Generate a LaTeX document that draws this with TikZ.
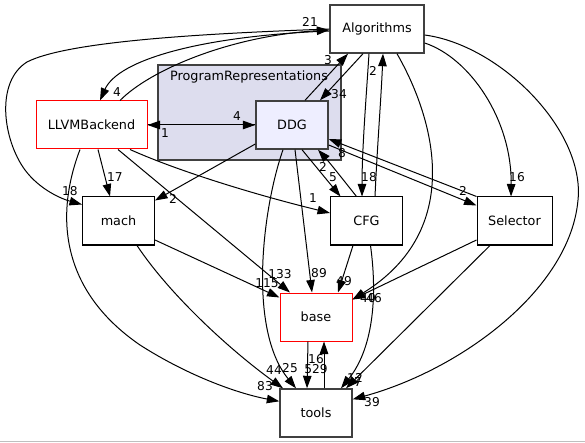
\documentclass[tikz,border=0pt]{standalone}
\usepackage{fontspec}
\setmainfont{DejaVu Sans}
\usetikzlibrary{arrows.meta}
\definecolor{clusterfill}{HTML}{DDDDEE}
\definecolor{ddgfill}{HTML}{EEEEFF}
\definecolor{darkborder}{HTML}{404040}
\definecolor{redborder}{HTML}{FF0000}
\newcommand{\nodefont}{\fontsize{12.8}{15}\selectfont}
\newcommand{\lblfont}{\fontsize{12.2}{14}\selectfont}
\tikzset{
  dirbox/.style={draw=black, line width=1pt, fill=white, minimum width=72pt, minimum height=48pt, inner sep=0pt, font=\nodefont},
  darkbox/.style={dirbox, draw=darkborder, line width=1.4pt},
  redbox/.style={dirbox, draw=redborder},
  dep/.style={line width=1pt, -{Triangle[length=12.5pt,width=8.5pt]}},
  lbl/.style={font=\lblfont, inner sep=0pt}
}
\begin{document}
\begin{tikzpicture}[x=1pt,y=-1pt]
\useasboundingbox (0,0) rectangle (585,443);
\draw[gray!50, line width=1pt] (0,441.5) -- (585,441.5);
% cluster
\node (PR) [fill=clusterfill, draw=darkborder, line width=1.2pt, minimum width=183pt, minimum height=95pt, inner sep=0pt] at (249.5,112.5) {};
\node (PRlabel) [font=\nodefont, inner sep=0pt] at (249,77) {ProgramRepresentations};
% nodes
\node (Alg) [darkbox, minimum width=94pt] at (377,29) {Algorithms};
\node (DDG) [darkbox, fill=ddgfill] at (292,125) {DDG};
\node (LLVM) [redbox, minimum width=111pt] at (91.5,125) {LLVMBackend};
\node (mach) [dirbox] at (118.5,221) {mach};
\node (CFG) [dirbox] at (366.5,221) {CFG};
\node (Sel) [dirbox, minimum width=75pt] at (514.5,221) {Selector};
\node (base) [redbox] at (316,317) {base};
\node (tools) [darkbox] at (316,413) {tools};
% edges
\draw[dep] (Alg.west) .. controls (220,33) and (70,40) .. (27,62) .. controls (-5,82) and (3,140) .. (25,170) .. controls (40,190) and (62,199) .. ([yshift=-8pt]mach.north west);
\draw[dep] ([yshift=-2pt]Alg.west) .. controls (200,36) and (118,60) .. ([xshift=8.5pt]LLVM.north);
\draw[dep] ([xshift=28.5pt]LLVM.north) .. controls (150,70) and (230,36) .. ([yshift=-1pt]Alg.west);
\draw[dep] ([xshift=13pt]DDG.north) -- ([xshift=-29pt]Alg.south);
\draw[dep] ([xshift=-14pt]Alg.south) -- ([xshift=28pt]DDG.north);
\draw[dep] (LLVM.east) -- (DDG.west);
\draw[dep] (DDG.west) -- (LLVM.east);
\draw[dep] ([yshift=-19pt]DDG.west) -- ([yshift=-4pt]mach.north east);
\draw[dep] ([xshift=10pt]DDG.south) -- ([xshift=-26pt]CFG.north);
\draw[dep] ([xshift=-10pt]CFG.north) .. controls (345,182) and (330,163) .. ([xshift=26pt]DDG.south);
\draw[dep] ([yshift=-20pt]DDG.east) -- ([yshift=-9pt]Sel.north west);
\draw[dep] (Sel.north west) -- ([yshift=-14pt]DDG.east);
\draw[dep] ([xshift=3pt]DDG.south) -- ([xshift=-4pt]base.north);
\draw[dep] ([xshift=-9pt]DDG.south) .. controls (262,210) and (248,330) .. ([xshift=-20pt]tools.north);
\draw[dep] ([xshift=-11.5pt]LLVM.south) .. controls (55,215) and (60,290) .. (140,345) .. controls (190,377) and (240,394) .. ([yshift=-13pt]tools.north west);
\draw[dep] ([xshift=6.5pt]LLVM.south) -- ([xshift=-8.5pt]mach.north);
\draw[dep] ([xshift=38.5pt]LLVM.south) .. controls (180,172) and (260,196) .. ([yshift=8pt]CFG.west);
\draw[dep] ([xshift=26.5pt]LLVM.south) -- ([xshift=-26pt]base.north);
\draw[dep] ([yshift=-19pt]mach.east) -- ([yshift=-5pt]base.north west);
\draw[dep] ([xshift=18.5pt]mach.south) .. controls (170,295) and (230,350) .. ([xshift=-33pt]tools.north);
\draw[dep] ([xshift=-8pt]Alg.south) .. controls (366,100) and (362,150) .. ([xshift=-4.5pt]CFG.north);
\draw[dep] ([xshift=8.5pt]CFG.north) .. controls (377,150) and (381,100) .. ([xshift=6pt]Alg.south);
\draw[dep] ([xshift=20pt]Alg.south) .. controls (435,120) and (465,230) .. ([yshift=-7pt]base.north east);
\draw[dep] ([yshift=-14pt]Alg.east) .. controls (470,58) and (512,120) .. ([xshift=-3.5pt]Sel.north);
\draw[dep] ([yshift=-6pt]Alg.east) .. controls (500,45) and (585,130) .. (578,200) .. controls (570,290) and (460,370) .. ([yshift=-11pt]tools.north east);
\draw[dep] ([xshift=-13.5pt]CFG.south) -- ([xshift=22pt]base.north);
\draw[dep] ([xshift=4pt]CFG.south) .. controls (378,300) and (372,350) .. ([xshift=25pt]tools.north);
\draw[dep] ([yshift=-19pt]Sel.west) -- ([yshift=-7pt]base.north east);
\draw[dep] ([xshift=-24.5pt]Sel.south) -- ([xshift=30pt]tools.north);
\draw[dep] ([xshift=-8pt]base.south) -- ([xshift=-9pt]tools.north);
\draw[dep] ([xshift=8pt]tools.north) -- ([xshift=8pt]base.south);
% labels
\node (l1) [lbl] at (310,22) {21};
\node (l2) [lbl] at (117,92) {4};
\node (l3) [lbl] at (70,191) {18};
\node (l4) [lbl] at (328,60) {3};
\node (l5) [lbl] at (339,94) {34};
\node (l6) [lbl] at (237,116) {4};
\node (l7) [lbl] at (165,133) {1};
\node (l8) [lbl] at (173,199) {2};
\node (l9) [lbl] at (333,177) {5};
\node (l10) [lbl] at (323,167) {2};
\node (l11) [lbl] at (463,191) {2};
\node (l12) [lbl] at (342,153) {8};
\node (l13) [lbl] at (319,273) {89};
\node (l14) [lbl] at (290,368) {25};
\node (l15) [lbl] at (265,386) {83};
\node (l16) [lbl] at (115,177) {17};
\node (l17) [lbl] at (313,198) {1};
\node (l18) [lbl] at (280,274) {133};
\node (l19) [lbl] at (267,283) {115};
\node (l20) [lbl] at (274,370) {44};
\node (l21) [lbl] at (369,177) {18};
\node (l22) [lbl] at (373,71) {2};
\node (l23) [lbl] at (368,298) {40};
\node (l24) [lbl] at (517,177) {16};
\node (l25) [lbl] at (372,402) {39};
\node (l26) [lbl] at (344,281) {49};
\node (l27) [lbl] at (355,378) {12};
\node (l28) [lbl] at (374,298) {46};
\node (l29) [lbl] at (358,382) {7};
\node (l30) [lbl] at (316,369) {529};
\node (l31) [lbl] at (316,359) {16};
\end{tikzpicture}
\end{document}
